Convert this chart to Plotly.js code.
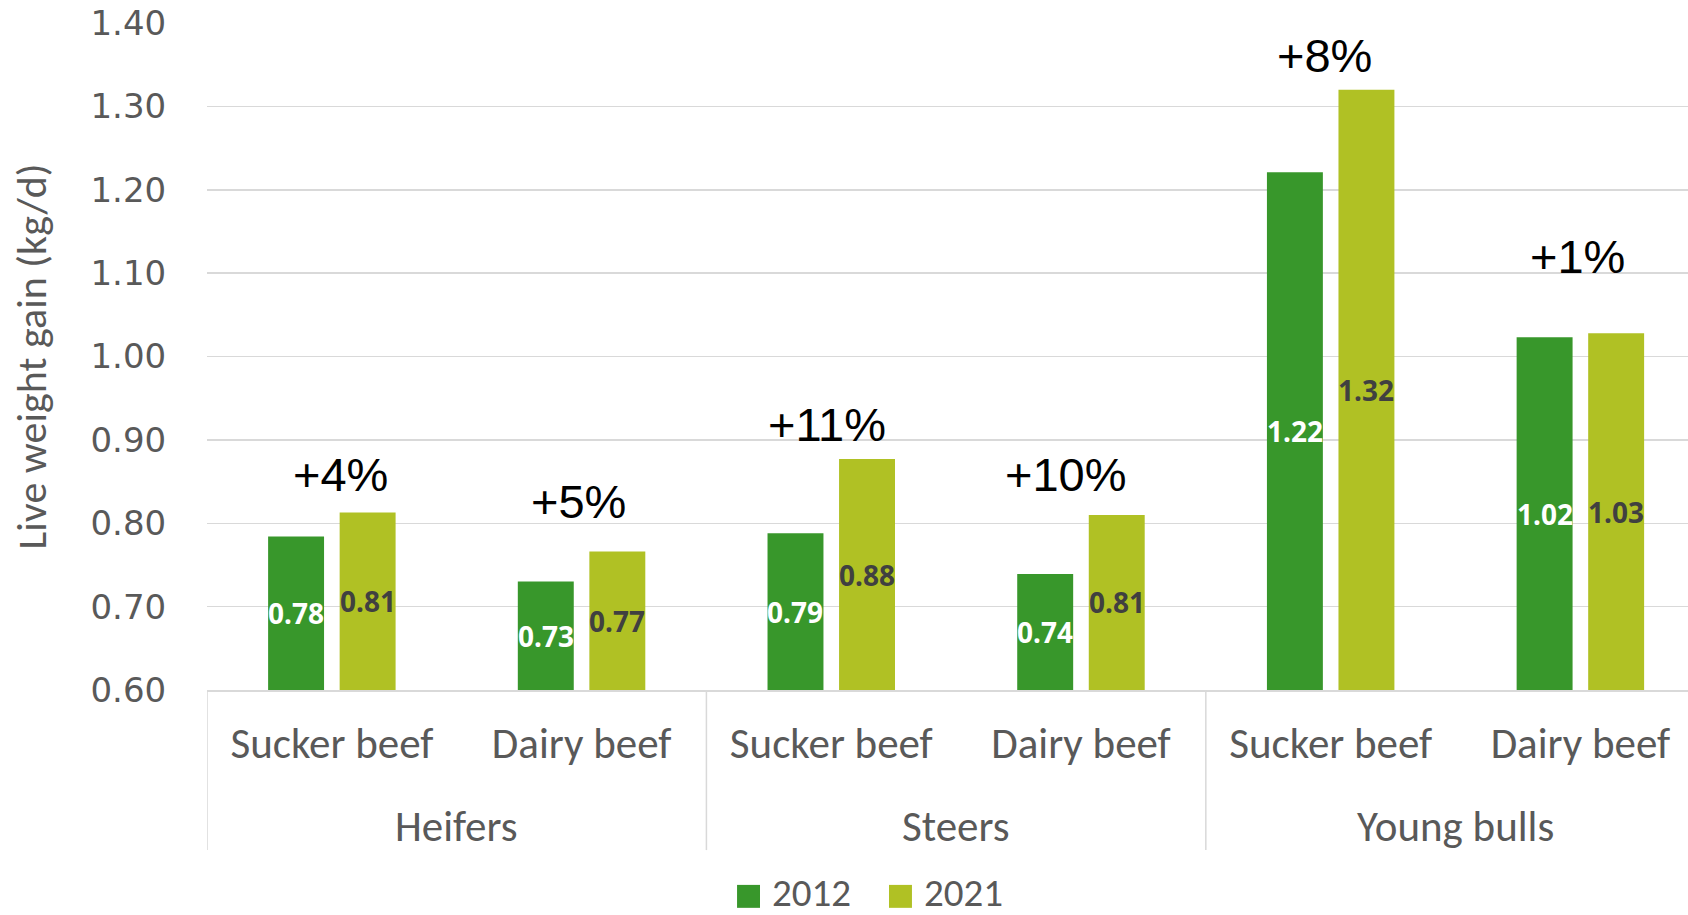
<!DOCTYPE html>
<html><head><meta charset="utf-8">
<script src="https://cdn.plot.ly/plotly-3.0.1.min.js"></script>
<style>html,body{margin:0;padding:0;background:#fff;} #chart{width:1688px;height:915px;}</style>
</head><body><div id="chart"></div>
<script>
// ---- data ----
const groups = ["Heifers", "Heifers", "Steers", "Steers", "Young bulls", "Young bulls"];
const subcats = ["Sucker beef", "Dairy beef", "Sucker beef", "Dairy beef", "Sucker beef", "Dairy beef"];
const groupNames = ["Heifers", "Steers", "Young bulls"];
const seriesNames = ["2012", "2021"];
const values2012 = [0.784, 0.730, 0.788, 0.739, 1.221, 1.023];
const values2021 = [0.813, 0.766, 0.877, 0.810, 1.320, 1.028];
const changeLabels = ["+4%", "+5%", "+11%", "+10%", "+8%", "+1%"];
const yTickValues = [0.6, 0.7, 0.8, 0.9, 1.0, 1.1, 1.2, 1.3, 1.4];

// ---- build ----
const keys = groups.map((g, i) => g + " | " + subcats[i]);
const calibriLike = "Carlito, Lato, 'Open Sans', sans-serif";
const gray = "#595959";
const colors = ["#38972b", "#b0c124"];
const labelColors = ["#ffffff", "#404040"];
const yMin = 0.6, yMax = 1.4;
const bargap = 0.427, bargroupgap = 0.218;
const barOffset = (1 - bargap) / 4;   // centre of each bar relative to its category

function barTrace(k, vals) {
  return {
    type: "bar", name: seriesNames[k], x: keys, y: vals,
    marker: {color: colors[k]}, textposition: "none",
    hoverinfo: "skip", showlegend: false
  };
}

// annotation placement (layout, not data)
const changeY = [0.859, 0.826, 0.919, 0.859, 1.361, 1.120];
const changeShift = [9, -3, -4, -15, -6, -3];

const annotations = [];
// value labels centred in the visible part of each bar
[values2012, values2021].forEach((vals, k) => {
  vals.forEach((v, i) => {
    annotations.push({
      text: v.toFixed(2), x: i + (k === 0 ? -barOffset : barOffset), y: (yMin + v) / 2,
      xref: "x", yref: "y", showarrow: false, xanchor: "center", yanchor: "middle", borderpad: 0,
      font: {family: "'Noto Sans', 'Open Sans', sans-serif", size: 28, color: labelColors[k], weight: "bold"}
    });
  });
});
changeLabels.forEach((t, i) => {
  annotations.push({
    text: t, x: i, y: changeY[i], xref: "x", yref: "y", xshift: changeShift[i],
    showarrow: false, xanchor: "center", yanchor: "middle",
    font: {family: "'Liberation Sans', Arial, sans-serif", size: 47, color: "#000000"}
  });
});
groupNames.forEach((g, j) => {
  annotations.push({
    text: g, x: 2 * j + 0.5, y: -0.204, xref: "x", yref: "paper",
    showarrow: false, xanchor: "center", yanchor: "middle",
    font: {family: calibriLike, size: 43, color: gray}
  });
});
const shapes = [];
[-0.5, 1.5, 3.5].forEach(xv => {
  shapes.push({type: "line", xref: "x", yref: "paper", x0: xv, x1: xv, y0: 0, y1: -0.24,
    line: {color: "#d9d9d9", width: 1.5}});
});
// legend (drawn in paper coordinates)
const legendBoxX = [0.3579, 0.4605];
const legendBoxW = 0.0155, legendY0 = -0.3266, legendY1 = -0.2922, legendTextY = -0.3035;
seriesNames.forEach((s, k) => {
  shapes.push({type: "rect", xref: "paper", yref: "paper",
    x0: legendBoxX[k], x1: legendBoxX[k] + legendBoxW, y0: legendY0, y1: legendY1,
    fillcolor: colors[k], line: {width: 0}});
  annotations.push({text: s, xref: "paper", yref: "paper", x: legendBoxX[k] + legendBoxW + 0.0075,
    y: legendTextY, xanchor: "left", yanchor: "middle", showarrow: false, borderpad: 0,
    font: {family: calibriLike, size: 39, color: gray}});
});

const layout = {
  width: 1688, height: 915,
  margin: {l: 207, r: 0, t: 23, b: 225},
  paper_bgcolor: "#ffffff", plot_bgcolor: "#ffffff",
  barmode: "group", bargap: bargap, bargroupgap: bargroupgap,
  showlegend: false,
  xaxis: {
    type: "category", range: [-0.5, 5.431], automargin: false,
    tickvals: keys, ticktext: subcats,
    tickfont: {family: calibriLike, size: 43, color: gray},
    ticks: "outside", ticklen: 15, tickcolor: "rgba(0,0,0,0)",
    showline: true, linecolor: "#d9d9d9", linewidth: 1.5,
    showgrid: false, zeroline: false, fixedrange: true
  },
  yaxis: {
    range: [yMin, yMax], tickvals: yTickValues, tickformat: ".2f", automargin: false,
    tickfont: {family: "'DejaVu Sans', Verdana, sans-serif", size: 34, color: gray},
    ticks: "outside", ticklen: 33, tickcolor: "rgba(0,0,0,0)",
    showgrid: true, gridcolor: "#d9d9d9", gridwidth: 1.5,
    zeroline: false, showline: false, fixedrange: true,
    title: {text: "Live weight gain (kg/d)", font: {family: calibriLike, size: 42, color: gray}, standoff: 30}
  },
  annotations: annotations,
  shapes: shapes
};

Plotly.newPlot("chart", [barTrace(0, values2012), barTrace(1, values2021)], layout,
  {staticPlot: true, displayModeBar: false});
</script>
</body></html>
